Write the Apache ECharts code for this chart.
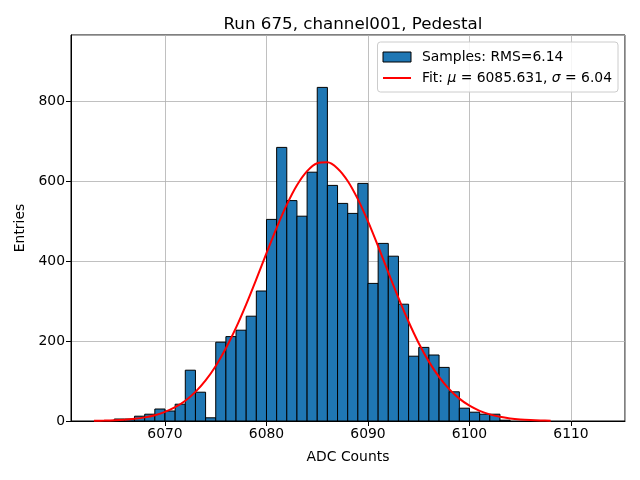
<!DOCTYPE html>
<html>
<head>
<meta charset="utf-8">
<script src="https://cdn.jsdelivr.net/npm/echarts@6/dist/echarts.min.js"></script>
<style>
  html, body { margin: 0; padding: 0; background: #fff; }
  #chart { width: 640px; height: 480px; }
</style>
</head>
<body>
<div id="chart"></div>
<script>
// histogram bins (left edge, width 1 ADC count)
var binLeft = [6065, 6066, 6067, 6068, 6069, 6070, 6071, 6072, 6073, 6074,
    6075, 6076, 6077, 6078, 6079, 6080, 6081, 6082, 6083, 6084,
    6085, 6086, 6087, 6088, 6089, 6090, 6091, 6092, 6093, 6094,
    6095, 6096, 6097, 6098, 6099, 6100, 6101, 6102, 6103];
var binCounts = [5, 5, 12, 17, 30, 25, 42, 127, 72, 8,
    197, 211, 227, 262, 325, 504, 684, 551, 512, 622,
    834, 589, 544, 519, 594, 344, 444, 412, 292, 162,
    184, 165, 134, 73, 32, 22, 17, 17, 2];
var binWidth = 1;

// fitted curve
var fitX = [6063, 6064, 6065, 6066, 6067, 6068, 6069, 6070, 6071, 6072,
    6073, 6074, 6075, 6076, 6077, 6078, 6079, 6080, 6081, 6082,
    6083, 6084, 6085, 6086, 6087, 6088, 6089, 6090, 6091, 6092,
    6093, 6094, 6095, 6096, 6097, 6098, 6099, 6100, 6101, 6102,
    6103, 6104, 6105, 6106, 6107, 6108];
var fitCounts = [0.6, 1.1, 1.9, 3.3, 5.6, 9.1, 14.6, 22.8, 34.5, 50.8,
    72.8, 101.5, 137.7, 181.8, 233.4, 291.7, 354.7, 419.6, 483.0, 540.9,
    589.4, 624.8, 644.5, 646.8, 631.5, 600.1, 554.6, 498.8, 436.5, 371.6,
    307.9, 248.1, 194.5, 148.4, 110.2, 79.6, 55.9, 38.2, 25.4, 16.5,
    10.4, 6.4, 3.8, 2.2, 1.2, 0.7];

var samplesName = "Samples: RMS=6.14";
var fitName = "Fit: \u03bc = 6085.631, \u03c3 = 6.04";
var font = "DejaVu Sans";
var fs = 13.9;

var barData = binLeft.map(function (x, i) {
    return [x, x + binWidth, binCounts[i]];
});
var fitData = fitX.map(function (x, i) {
    return [x, fitCounts[i]];
});

var chart = echarts.init(document.getElementById("chart"), null, { renderer: "canvas" });
chart.setOption({
    animation: false,
    backgroundColor: "#fff",
    title: {
        text: "Run 675, channel001, Pedestal",
        left: 348,
        top: 11,
        textAlign: "center",
        textStyle: { fontFamily: font, fontSize: 16.7, fontWeight: "normal", color: "#000" }
    },
    grid: {
        left: 71, right: 15, top: 35, bottom: 59,
        show: true, borderColor: "#000", borderWidth: 1, backgroundColor: "transparent"
    },
    legend: {
        orient: "vertical",
        right: 22,
        top: 42,
        align: "left",
        padding: [8, 6, 7, 5],
        itemGap: 7,
        itemWidth: 28,
        itemHeight: 10,
        backgroundColor: "rgba(255,255,255,0.85)",
        borderColor: "#cccccc",
        borderWidth: 1,
        borderRadius: 3,
        data: [
            { name: samplesName, icon: "rect", itemStyle: { color: "#1f77b4", borderColor: "#000", borderWidth: 1 } },
            {
                name: fitName,
                icon: "path://M0,0 L0,0 M0,10 L0,10 M0,4 L28,4 L28,6 L0,6 Z",
                itemStyle: { color: "#ff0000", borderWidth: 0 }
            }
        ],
        formatter: function (name) {
            if (name === fitName) {
                return "{n|Fit: }{i|\u03bc}{n| = 6085.631, }{i|\u03c3}{n| = 6.04}";
            }
            return "{n|" + name + "}";
        },
        textStyle: {
            fontFamily: font, fontSize: fs, color: "#000",
            rich: {
                n: { fontFamily: font, fontSize: fs, color: "#000" },
                i: { fontFamily: font, fontSize: fs, color: "#000", fontStyle: "italic" }
            },
            padding: [0, 0, 0, 6]
        }
    },
    xAxis: {
        type: "value",
        min: 6060.74,
        max: 6115.32,
        name: "ADC Counts",
        nameLocation: "middle",
        nameGap: 29,
        nameTextStyle: { fontFamily: font, fontSize: fs, color: "#000" },
        axisLine: { onZero: false, lineStyle: { color: "#000", width: 1 } },
        axisTick: { length: 5, lineStyle: { color: "#000" } },
        axisLabel: {
            fontFamily: font, fontSize: fs, color: "#000", margin: 6,
            showMinLabel: false, showMaxLabel: false,
            formatter: function (v) { return v % 10 === 0 ? String(v) : ""; }
        },
        splitLine: { show: true, lineStyle: { color: "#b0b0b0", width: 0.8 } }
    },
    yAxis: {
        type: "value",
        min: 0,
        max: 965,
        interval: 200,
        name: "Entries",
        nameLocation: "middle",
        nameGap: 41,
        nameRotate: 90,
        nameTextStyle: { fontFamily: font, fontSize: fs, color: "#000" },
        axisLine: { show: true, lineStyle: { color: "#000", width: 1 } },
        axisTick: { show: true, length: 5, lineStyle: { color: "#000" } },
        axisLabel: {
            fontFamily: font, fontSize: fs, color: "#000", margin: 6,
            showMaxLabel: false,
            formatter: function (v) { return v % 200 === 0 ? String(v) : ""; }
        },
        splitLine: { show: true, lineStyle: { color: "#b0b0b0", width: 0.8 } }
    },
    series: [
        {
            name: samplesName,
            type: "custom",
            itemStyle: { color: "#1f77b4", borderColor: "#000", borderWidth: 1 },
            encode: { x: [0, 1], y: 2 },
            data: barData,
            z: 2,
            renderItem: function (params, api) {
                var top = api.coord([api.value(0), api.value(2)]);
                var bottom = api.coord([api.value(1), 0]);
                return {
                    type: "rect",
                    shape: { x: top[0], y: top[1], width: bottom[0] - top[0], height: bottom[1] - top[1] },
                    style: { fill: "#1f77b4", stroke: "#000", lineWidth: 1 }
                };
            }
        },
        {
            name: fitName,
            type: "line",
            data: fitData,
            symbol: "none",
            smooth: 0.3,
            z: 3,
            itemStyle: { color: "#ff0000" },
            lineStyle: { color: "#ff0000", width: 2 }
        }
    ]
});
</script>
</body>
</html>
